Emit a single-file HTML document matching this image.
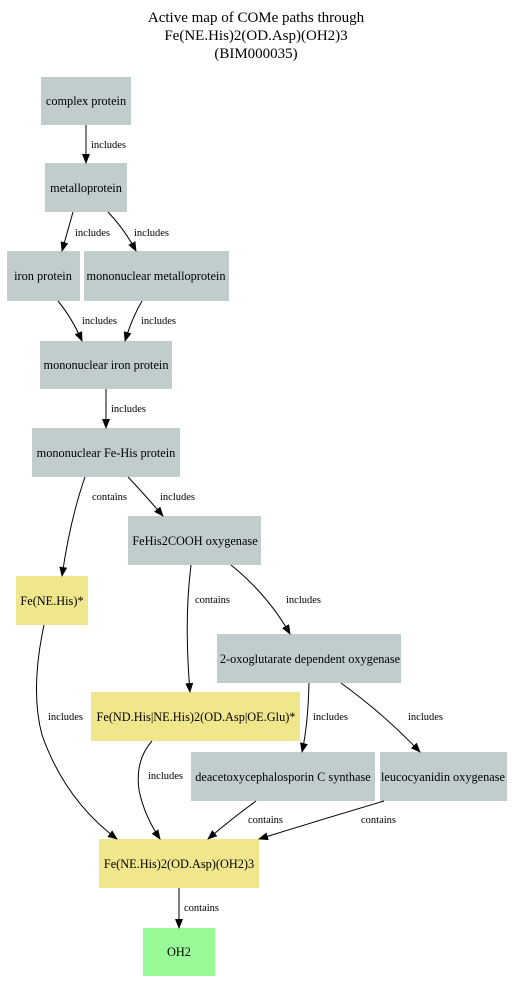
<!DOCTYPE html>
<html><head><meta charset="utf-8"><style>
html,body{margin:0;padding:0;background:#fff;}
svg{display:block;font-family:"Liberation Serif",serif;}
.g{fill:#c1cdcd}.y{fill:#f0e68c}.gr{fill:#98fb98}
.n{font-size:12.3px;text-anchor:middle;fill:#000}
.l{font-size:10.5px;fill:#000}
.e{fill:none;stroke:#000;stroke-width:1}
</style></head><body>
<svg width="513" height="993" viewBox="0 0 513 993">
<defs><marker id="a" markerWidth="10" markerHeight="8" refX="9" refY="4" orient="auto" markerUnits="userSpaceOnUse"><path d="M0,0 L10,4 L0,8 z" fill="#000"/></marker></defs>
<rect width="513" height="993" fill="#fff"/>
<text x="256" y="22" font-size="15" text-anchor="middle">Active map of COMe paths through</text>
<text x="256" y="40" font-size="15" text-anchor="middle">Fe(NE.His)2(OD.Asp)(OH2)3</text>
<text x="256" y="58" font-size="15" text-anchor="middle">(BIM000035)</text>

<rect class="g" x="41" y="77" width="90" height="48"/><text class="n" x="86" y="105">complex protein</text>
<rect class="g" x="45" y="163" width="82" height="49"/><text class="n" x="86" y="192">metalloprotein</text>
<rect class="g" x="7" y="251" width="73" height="50"/><text class="n" x="43" y="280">iron protein</text>
<rect class="g" x="84" y="251" width="145" height="50"/><text class="n" x="156" y="280">mononuclear metalloprotein</text>
<rect class="g" x="40" y="341" width="132" height="48"/><text class="n" x="106" y="369">mononuclear iron protein</text>
<rect class="g" x="32" y="428" width="148" height="49"/><text class="n" x="106" y="457">mononuclear Fe-His protein</text>
<rect class="g" x="128" y="516" width="133" height="49"/><text class="n" x="195" y="545">FeHis2COOH oxygenase</text>
<rect class="y" x="16" y="576" width="72" height="49"/><text class="n" x="52" y="605">Fe(NE.His)*</text>
<rect class="g" x="217" y="634" width="184" height="49"/><text class="n" x="310" y="663">2-oxoglutarate dependent oxygenase</text>
<rect class="y" x="91" y="692" width="209" height="49"/><text class="n" x="196" y="721">Fe(ND.His|NE.His)2(OD.Asp|OE.Glu)*</text>
<rect class="g" x="191" y="752" width="184" height="49"/><text class="n" x="283" y="781">deacetoxycephalosporin C synthase</text>
<rect class="g" x="380" y="752" width="127" height="49"/><text class="n" x="443" y="781">leucocyanidin oxygenase</text>
<rect class="y" x="99" y="839" width="160" height="49"/><text class="n" x="179" y="868">Fe(NE.His)2(OD.Asp)(OH2)3</text>
<rect class="gr" x="143" y="928" width="72" height="48"/><text class="n" x="179" y="956">OH2</text>

<path class="e" marker-end="url(#a)" d="M86,125 L86,163"/><text class="l" x="91" y="148">includes</text>
<path class="e" marker-end="url(#a)" d="M73,212 L62,251"/><text class="l" x="75" y="236">includes</text>
<path class="e" marker-end="url(#a)" d="M108,212 Q125,230 136,251"/><text class="l" x="134" y="236">includes</text>
<path class="e" marker-end="url(#a)" d="M58,301 Q72,318 82,341"/><text class="l" x="82" y="324">includes</text>
<path class="e" marker-end="url(#a)" d="M142,301 Q132,318 125,341"/><text class="l" x="141" y="324">includes</text>
<path class="e" marker-end="url(#a)" d="M106,389 L106,428"/><text class="l" x="111" y="412">includes</text>
<path class="e" marker-end="url(#a)" d="M85,477 Q70,520 62,576"/><text class="l" x="92" y="500">contains</text>
<path class="e" marker-end="url(#a)" d="M128,477 Q145,495 163,516"/><text class="l" x="160" y="500">includes</text>
<path class="e" marker-end="url(#a)" d="M191,565 Q184,620 190,692"/><text class="l" x="195" y="603">contains</text>
<path class="e" marker-end="url(#a)" d="M231,565 Q268,595 290,634"/><text class="l" x="286" y="603">includes</text>
<path class="e" marker-end="url(#a)" d="M44,625 Q30,690 42,735 Q65,800 117,839"/><text class="l" x="48" y="720">includes</text>
<path class="e" marker-end="url(#a)" d="M152,741 Q135,760 139,790 Q144,815 160,839"/><text class="l" x="148" y="779">includes</text>
<path class="e" marker-end="url(#a)" d="M309,683 Q308,725 302,752"/><text class="l" x="313" y="720">includes</text>
<path class="e" marker-end="url(#a)" d="M341,683 Q385,715 420,752"/><text class="l" x="408" y="720">includes</text>
<path class="e" marker-end="url(#a)" d="M256,801 Q230,820 208,839"/><text class="l" x="248" y="823">contains</text>
<path class="e" marker-end="url(#a)" d="M384,801 Q320,820 259,839"/><text class="l" x="361" y="823">contains</text>
<path class="e" marker-end="url(#a)" d="M179,888 L179,928"/><text class="l" x="184" y="911">contains</text>
</svg>
</body></html>
